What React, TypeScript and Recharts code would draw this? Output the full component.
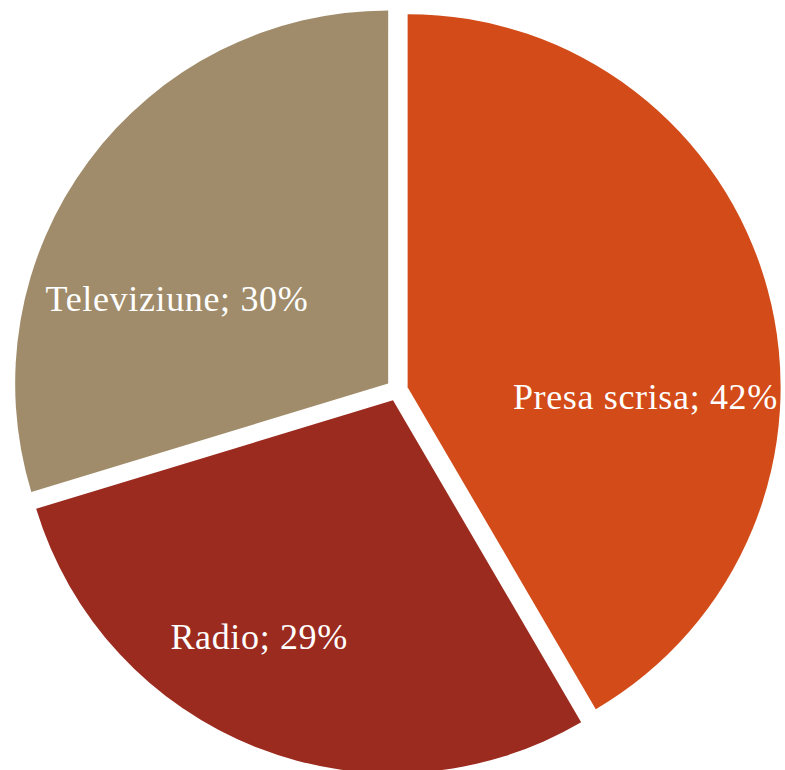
import { Cell, Pie, PieChart } from 'recharts'

const categories = ['Presa scrisa', 'Radio', 'Televiziune']
const shares = [42, 29, 30]
const colors = ['#d24b18', '#9b2b1f', '#a08c6a']

// label placement relative to each slice: angle shift (deg) and radius ratio
const labelAngleShift = [-17.5, -8.1, 14.7]
const labelRadiusRatio = [0.638, 0.729, 0.61]

const WIDTH = 785
const HEIGHT = 770
const CX = 397
const CY = 390
const RADIUS = 373
const EXPLODE = 11
const RADIAN = Math.PI / 180

const data = categories.map((name, i) => ({ name, value: shares[i] }))
const total = shares.reduce((a, b) => a + b, 0)

// mid angle of each slice, recharts convention (start at 90, clockwise)
const midAngles = shares.map((v, i) => {
  const before = shares.slice(0, i).reduce((a, b) => a + b, 0)
  const start = 90 - (before / total) * 360
  const end = start - (v / total) * 360
  return (start + end) / 2
})

function makeLabel(target: number) {
  return (props: any) => {
    const { cx, cy, midAngle, outerRadius, index } = props
    if (index !== target) return <g />
    const a = (midAngle + labelAngleShift[index]) * RADIAN
    const r = outerRadius * labelRadiusRatio[index]
    const x = cx + r * Math.cos(-a)
    const y = cy + r * Math.sin(-a)
    return (
      <text
        x={x}
        y={y + 12}
        textAnchor="middle"
        fill="#ffffff"
        fontFamily="'Liberation Serif', 'DejaVu Serif', serif"
        fontSize={36}
        letterSpacing={0.65}
      >
        {`${data[index].name}; ${data[index].value}%`}
      </text>
    )
  }
}

export default function App() {
  return (
    <div style={{ position: 'absolute', left: 0, top: 0 }}>
      <PieChart width={WIDTH} height={HEIGHT} margin={{ top: 0, right: 0, bottom: 0, left: 0 }}>
        {data.map((d, target) => {
          const a = midAngles[target] * RADIAN
          const cx = CX + EXPLODE * Math.cos(-a)
          const cy = CY + EXPLODE * Math.sin(-a)
          return (
            <Pie
              key={d.name}
              data={data}
              dataKey="value"
              nameKey="name"
              cx={cx}
              cy={cy}
              outerRadius={RADIUS}
              startAngle={90}
              endAngle={-270}
              stroke="none"
              labelLine={false}
              label={makeLabel(target)}
              isAnimationActive={false}
            >
              {data.map((e, i) => (
                <Cell key={e.name} fill={i === target ? colors[i] : 'none'} stroke="none" />
              ))}
            </Pie>
          )
        })}
      </PieChart>
    </div>
  )
}
